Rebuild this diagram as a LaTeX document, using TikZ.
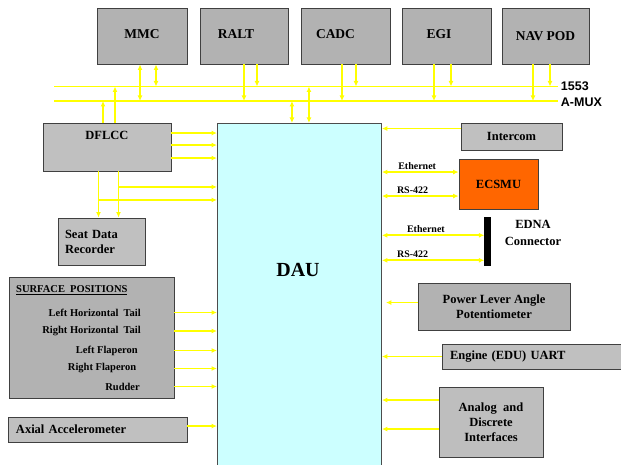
\documentclass[tikz,border=0pt]{standalone}
\usepackage{fontspec}
\setmainfont{Liberation Serif}
\newfontfamily\arialfont{Liberation Sans}
\usetikzlibrary{positioning,arrows.meta,shadows}
\definecolor{unitgray}{HTML}{B2B2B2}
\definecolor{panelgray}{HTML}{C0C0C0}
\definecolor{busyellow}{HTML}{FFFF00}
\definecolor{daucyan}{HTML}{CCFFFF}
\definecolor{ecsmuorange}{HTML}{FF6600}
\tikzstyle{unit} = [draw=black!75, fill=unitgray, line width=0.9pt, inner sep=0pt, align=center, font=\bfseries\fontsize{12.5}{15}\selectfont, drop shadow={shadow xshift=0.9pt, shadow yshift=-0.9pt, fill=black!65, opacity=0.9}]
\tikzstyle{topunit} = [unit, minimum height=56pt, font=\bfseries\fontsize{13.5}{16}\selectfont]
\tikzstyle{panel} = [unit, fill=panelgray]
\tikzstyle{item} = [inner sep=0pt, anchor=east, font=\bfseries\fontsize{10.5}{12}\selectfont]
\tikzstyle{linklabel} = [inner sep=1.5pt, text=black, font=\bfseries\fontsize{10}{12}\selectfont]
\tikzstyle{bus} = [busyellow, line width=1.8pt]
\tikzstyle{sig} = [busyellow, line width=1.8pt]
\tikzstyle{busname} = [right, inner sep=2pt, text=black, font=\arialfont\bfseries\fontsize{12.5}{14}\selectfont]

\begin{document}
\begin{tikzpicture}[x=1pt, y=-1pt, >={Latex[length=5.5pt,width=5pt]}]
\useasboundingbox (0,0) rectangle (621,465);

% units on the bus
\node [topunit, minimum width=90pt] (mmc) at (142,36) {\raisebox{3pt}{MMC}};
\node [topunit, minimum width=88pt] (ralt) at (244,36) {\hspace*{-16pt}\raisebox{3pt}{RALT}};
\node [topunit, minimum width=89pt] (cadc) at (345.5,36) {\hspace*{-20pt}\raisebox{3pt}{CADC}};
\node [topunit, minimum width=89pt] (egi) at (447,36) {\hspace*{-16pt}\raisebox{3pt}{EGI}};
\node [topunit, minimum width=87pt] (navpod) at (545.5,36) {NAV POD};

% 1553 and A-MUX buses
\coordinate (b1553w) at (54,86.5);
\coordinate (b1553e) at (558,86.5);
\coordinate (amuxw) at (54,101);
\coordinate (amuxe) at (558,101);
\draw [bus] (b1553w) -- (b1553e) node [busname] {1553};
\draw [bus] (amuxw) -- (amuxe) node [busname, yshift=-1.5pt] {A-MUX};

\draw [sig, <->] ([xshift=-2pt]mmc.south) -- ([xshift=-2pt]mmc.south |- amuxw);
\draw [sig, <->] ([xshift=14pt]mmc.south) -- ([xshift=14pt]mmc.south |- b1553w);
\draw [sig, ->] ([xshift=0pt]ralt.south) -- ([xshift=0pt]ralt.south |- amuxw);
\draw [sig, ->] ([xshift=13pt]ralt.south) -- ([xshift=13pt]ralt.south |- b1553w);
\draw [sig, ->] ([xshift=-3.5pt]cadc.south) -- ([xshift=-3.5pt]cadc.south |- amuxw);
\draw [sig, ->] ([xshift=10.5pt]cadc.south) -- ([xshift=10.5pt]cadc.south |- b1553w);
\draw [sig, ->] ([xshift=-13pt]egi.south) -- ([xshift=-13pt]egi.south |- amuxw);
\draw [sig, ->] ([xshift=4pt]egi.south) -- ([xshift=4pt]egi.south |- b1553w);
\draw [sig, ->] ([xshift=-12.5pt]navpod.south) -- ([xshift=-12.5pt]navpod.south |- amuxw);
\draw [sig, ->] ([xshift=4.5pt]navpod.south) -- ([xshift=4.5pt]navpod.south |- b1553w);

% DAU
\node [draw=black!70, fill=daucyan, line width=0.9pt, minimum width=164pt, minimum height=350pt, anchor=north west] (dau) at (217,123) {};
\node [font=\bfseries\fontsize{20}{24}\selectfont] (daulabel) at (298,270) {DAU};
\draw [sig, <->] ([xshift=-7.5pt]dau.north) -- ([xshift=-7.5pt]dau.north |- amuxw);
\draw [sig, <->] ([xshift=9.5pt]dau.north) -- ([xshift=9.5pt]dau.north |- b1553w);

% DFLCC and seat data recorder
\node [panel, minimum width=128pt, minimum height=48pt, label={[font=\bfseries\fontsize{12.5}{15}\selectfont, anchor=north, yshift=-5pt]north:DFLCC}] (dflcc) at (107,147) {};
\node [panel, minimum width=87pt, minimum height=47pt, text width=73pt, align=left] (seat) at (101.5,241.5) {Seat Data\\Recorder};
\draw [sig, ->] ([xshift=-4pt]dflcc.north) -- ([xshift=-4pt]dflcc.north |- amuxw);
\draw [sig, ->] ([xshift=8pt]dflcc.north) -- ([xshift=8pt]dflcc.north |- b1553w);
\draw [sig, ->] ([yshift=-10.5pt]dflcc.north east) -- ([yshift=-10.5pt]dflcc.north east -| dau.west);
\draw [sig, ->] ([yshift=-22.5pt]dflcc.north east) -- ([yshift=-22.5pt]dflcc.north east -| dau.west);
\draw [sig, ->] ([yshift=-35.5pt]dflcc.north east) -- ([yshift=-35.5pt]dflcc.north east -| dau.west);
\draw [sig, ->] ([xshift=-8.5pt]dflcc.south) -- ([xshift=-8.5pt]dflcc.south |- seat.north);
\draw [sig, ->] ([xshift=11.5pt]dflcc.south) -- ([xshift=11.5pt]dflcc.south |- seat.north);
\coordinate (branchA) at ([xshift=11.5pt, yshift=-15.5pt]dflcc.south);
\coordinate (branchB) at ([xshift=-8.5pt, yshift=-28.5pt]dflcc.south);
\draw [sig, ->] (branchA) -- (branchA -| dau.west);
\draw [sig, ->] (branchB) -- (branchB -| dau.west);

% surface positions
\node [unit, minimum width=165pt, minimum height=121pt] (surf) at (91.5,337.5) {};
\node [item, anchor=west] (surftitle) at (16,290) {\underline{SURFACE\ \ POSITIONS}};
\node [item] (lht) at (141,312.5) {Left Horizontal\ \ Tail};
\node [item] (rht) at (141,331) {Right Horizontal\ \ Tail};
\node [item] (lfl) at (138,350.5) {Left Flaperon};
\node [item] (rfl) at (136.5,368.5) {Right Flaperon};
\node [item] (rud) at (140,386.5) {Rudder};
\foreach \sp in {lht,rht,lfl,rfl,rud}
  \draw [sig, ->] (surf.east |- \sp.east) -- (dau.west |- \sp.east);

\node [panel, minimum width=179pt, minimum height=25pt, text width=163pt, align=left] (axial) at (97.5,429.5) {Axial Accelerometer};
\draw [sig, ->] ([yshift=-9.5pt]axial.north east) -- ([yshift=-9.5pt]axial.north east -| dau.west);

% right side
\node [panel, minimum width=101pt, minimum height=27pt] (intercom) at (511.5,136.5) {Intercom};
\draw [sig, ->] ([yshift=-6pt]intercom.north west) -- ([yshift=-6pt]intercom.north west -| dau.east);

\node [unit, fill=ecsmuorange, minimum width=79pt, minimum height=50pt] (ecsmu) at (498.5,184) {ECSMU};
\draw [sig, <->] ([yshift=-13.5pt]ecsmu.north west -| dau.east) -- node [linklabel, above, pos=0.46] {Ethernet} ([yshift=-13.5pt]ecsmu.north west);
\draw [sig, <->] ([yshift=-37.5pt]ecsmu.north west -| dau.east) -- node [linklabel, above, pos=0.4] {RS-422} ([yshift=-37.5pt]ecsmu.north west);

\node [draw=black, fill=black, minimum width=6pt, minimum height=48pt, inner sep=0pt] (edna) at (487.5,241) {};
\node [align=center, inner sep=0pt, font=\bfseries\fontsize{12.5}{17}\selectfont] (ednalabel) at (533,233) {EDNA\\Connector};
\draw [sig, <->] ([yshift=-18.5pt]edna.north west -| dau.east) -- node [linklabel, above, pos=0.43] {Ethernet} ([yshift=-18.5pt]edna.north west);
\draw [sig, <->] ([yshift=-43.5pt]edna.north west -| dau.east) -- node [linklabel, above, pos=0.3] {RS-422} ([yshift=-43.5pt]edna.north west);

\node [unit, minimum width=152pt, minimum height=47pt] (pla) at (494,306.5) {Power\ Lever Angle\\Potentiometer};
\draw [sig, ->] ([yshift=-20pt]pla.north west) -- ([yshift=-20pt, xshift=4pt]pla.north west -| dau.east);

\node [panel, minimum width=190pt, minimum height=25pt, text width=174pt, align=left] (engine) at (537,356.5) {Engine\ (EDU)\ UART};
\draw [sig, ->] (engine.west) -- (engine.west -| dau.east);

\node [unit, fill=unitgray!85!white, minimum width=104pt, minimum height=70pt] (analog) at (491,422) {Analog\ \ and\\Discrete\\Interfaces};
\draw [sig, ->] ([yshift=-13.5pt]analog.north west) -- ([yshift=-13.5pt]analog.north west -| dau.east);
\draw [sig, ->] ([yshift=-42.5pt]analog.north west) -- ([yshift=-42.5pt]analog.north west -| dau.east);

\end{tikzpicture}
\end{document}
